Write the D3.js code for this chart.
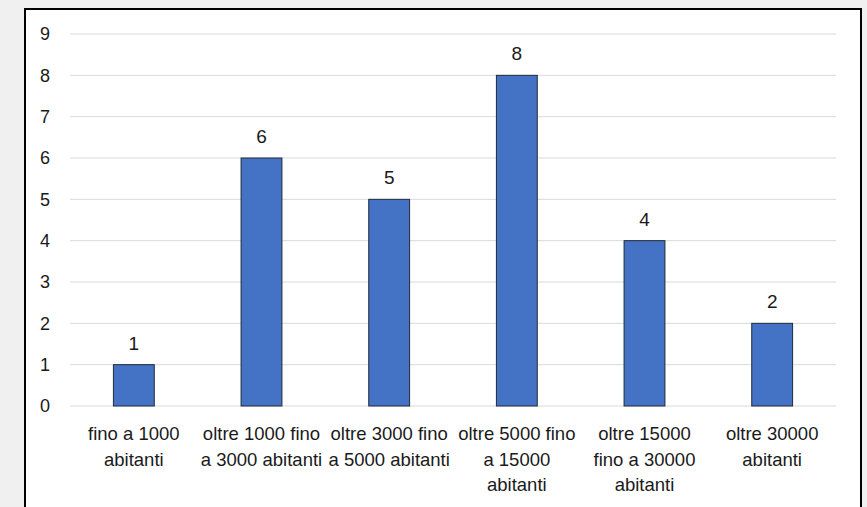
<!DOCTYPE html>
<html>
<head>
  <meta charset="utf-8">
  <script src="https://d3js.org/d3.v7.min.js"></script>
  <style>
    body { margin: 0; background: #f0f0f0; }
    svg { display: block; font-family: "Liberation Sans", Arial, sans-serif; }
  </style>
</head>
<body>
  <svg id="chart" width="867" height="507"></svg>
  <script>
    // categories (line breaks as in the original)
    const categories = [
      "fino a 1000\nabitanti",
      "oltre 1000 fino\na 3000 abitanti",
      "oltre 3000 fino\na 5000 abitanti",
      "oltre 5000 fino\na 15000\nabitanti",
      "oltre 15000\nfino a 30000\nabitanti",
      "oltre 30000\nabitanti"
    ];
    const values = [1, 6, 5, 8, 4, 2];
    const yTicks = [0, 1, 2, 3, 4, 5, 6, 7, 8, 9];

    const svg = d3.select("#chart");

    // chart frame
    svg.append("rect")
      .attr("x", 25).attr("y", 9)
      .attr("width", 836).attr("height", 520)
      .attr("fill", "#fff")
      .attr("stroke", "#000")
      .attr("stroke-width", 2);

    const margin = { top: 34, left: 70, right: 31, bottom: 101 };
    const width = 867 - margin.left - margin.right;
    const height = 507 - margin.top - margin.bottom;

    const x = d3.scaleBand()
      .domain(categories)
      .range([0, width])
      .paddingInner(0.68)
      .paddingOuter(0.34);

    const y = d3.scaleLinear()
      .domain([0, 9])
      .range([height, 0]);

    const g = svg.append("g")
      .attr("transform", `translate(${margin.left},${margin.top})`);

    // gridlines
    g.selectAll(".grid")
      .data(yTicks)
      .enter().append("line")
      .attr("x1", 0).attr("x2", width)
      .attr("y1", d => y(d)).attr("y2", d => y(d))
      .attr("stroke", "#d9d9d9")
      .attr("stroke-width", 1);

    // y labels
    g.selectAll(".ylab")
      .data(yTicks)
      .enter().append("text")
      .attr("x", -25)
      .attr("y", d => y(d))
      .attr("dy", "0.35em")
      .attr("text-anchor", "middle")
      .attr("font-size", 18)
      .attr("fill", "#1a1a1a")
      .text(d => d);

    // bars
    g.selectAll(".bar")
      .data(values)
      .enter().append("rect")
      .attr("x", (d, i) => x(categories[i]))
      .attr("y", d => y(d))
      .attr("width", x.bandwidth())
      .attr("height", d => height - y(d))
      .attr("fill", "#4472c4")
      .attr("stroke", "#1f2a3a")
      .attr("stroke-width", 1);

    // value labels
    g.selectAll(".val")
      .data(values)
      .enter().append("text")
      .attr("x", (d, i) => x(categories[i]) + x.bandwidth() / 2)
      .attr("y", d => y(d) - 15)
      .attr("text-anchor", "middle")
      .attr("font-size", 19)
      .attr("fill", "#1a1a1a")
      .text(d => d);

    // category labels
    categories.forEach((c, i) => {
      const cx = x(c) + x.bandwidth() / 2;
      const t = g.append("text")
        .attr("x", cx)
        .attr("y", height + 34)
        .attr("text-anchor", "middle")
        .attr("font-size", 18.5)
        .attr("fill", "#1a1a1a");
      c.split("\n").forEach((line, j) => {
        t.append("tspan")
          .attr("x", cx)
          .attr("dy", j === 0 ? 0 : 25.5)
          .text(line);
      });
    });
  </script>
</body>
</html>
